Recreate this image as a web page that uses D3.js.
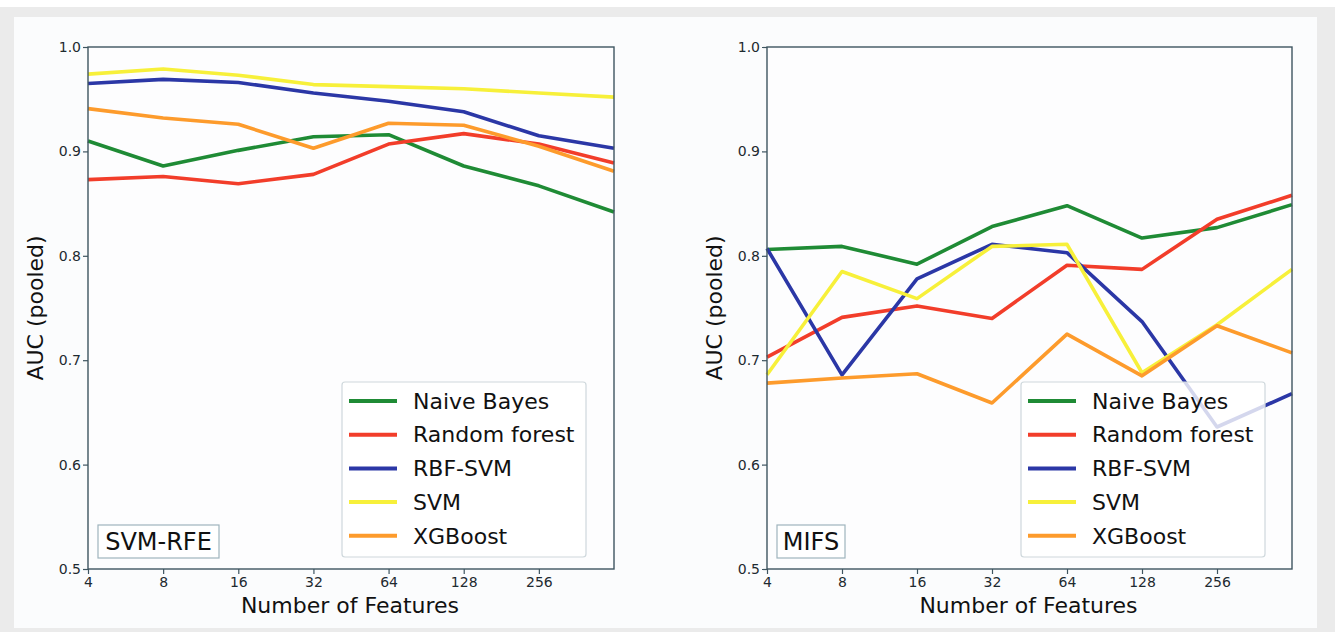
<!DOCTYPE html>
<html>
<head>
<meta charset="utf-8">
<script src="https://cdn.jsdelivr.net/npm/d3@7/dist/d3.min.js"></script>
<style>
  html, body { margin: 0; padding: 0; background: #ffffff; }
  svg { display: block; font-family: "DejaVu Sans", sans-serif; }
</style>
</head>
<body>
<svg id="chart" width="1335" height="632"></svg>
<script>
// ---- data ----
const features = [4, 8, 16, 32, 64, 128, 256, 512];
const xTickValues = [4, 8, 16, 32, 64, 128, 256];
const yTickValues = [0.5, 0.6, 0.7, 0.8, 0.9, 1.0];
const seriesNames = ["Naive Bayes", "Random forest", "RBF-SVM", "SVM", "XGBoost"];
const seriesColors = ["#1f8b35", "#f23d2a", "#2b37a6", "#f7f03a", "#fd9b2c"];

// SVM-RFE panel
const rfeNaiveBayes   = [0.910, 0.886, 0.901, 0.914, 0.916, 0.886, 0.867, 0.842];
const rfeRandomForest = [0.873, 0.876, 0.869, 0.878, 0.907, 0.917, 0.907, 0.889];
const rfeRbfSvm       = [0.965, 0.969, 0.966, 0.956, 0.948, 0.938, 0.915, 0.903];
const rfeSvm          = [0.974, 0.979, 0.973, 0.964, 0.962, 0.960, 0.956, 0.952];
const rfeXgboost      = [0.941, 0.932, 0.926, 0.903, 0.927, 0.925, 0.905, 0.881];

// MIFS panel
const mifsNaiveBayes   = [0.806, 0.809, 0.792, 0.828, 0.848, 0.817, 0.827, 0.849];
const mifsRandomForest = [0.703, 0.741, 0.752, 0.740, 0.791, 0.787, 0.835, 0.858];
const mifsRbfSvm       = [0.807, 0.686, 0.778, 0.811, 0.803, 0.737, 0.636, 0.668];
const mifsSvm          = [0.686, 0.785, 0.759, 0.809, 0.811, 0.688, 0.734, 0.787];
const mifsXgboost      = [0.678, 0.683, 0.687, 0.659, 0.725, 0.685, 0.733, 0.707];

const panels = [
  { tag: "SVM-RFE", series: [rfeNaiveBayes, rfeRandomForest, rfeRbfSvm, rfeSvm, rfeXgboost],
    left: 88, right: 614, tagBoxW: 121 },
  { tag: "MIFS", series: [mifsNaiveBayes, mifsRandomForest, mifsRbfSvm, mifsSvm, mifsXgboost],
    left: 767, right: 1292, tagBoxW: 68 }
];

const svg = d3.select("#chart");

// background frame
svg.append("rect").attr("x", 0).attr("y", 7).attr("width", 1335).attr("height", 625).attr("fill", "#ebebeb");
svg.append("rect").attr("x", 14).attr("y", 17).attr("width", 1303).attr("height", 611).attr("fill", "#fbfcfd");

const plotTop = 47, plotBottom = 569;
const spineColor = "#3e5560";

panels.forEach(p => {
  const g = svg.append("g");
  const x = d3.scaleLog().base(2).domain([4, 512]).range([p.left, p.right]);
  const y = d3.scaleLinear().domain([0.5, 1.0]).range([plotBottom, plotTop]);

  // plot area
  g.append("rect").attr("x", p.left).attr("y", plotTop)
    .attr("width", p.right - p.left).attr("height", plotBottom - plotTop).attr("fill", "#fdfdfe");

  // lines
  const line = d3.line().x((d, i) => x(features[i])).y(d => y(d));
  p.series.forEach((vals, k) => {
    g.append("path").datum(vals)
      .attr("d", line)
      .attr("fill", "none")
      .attr("stroke", seriesColors[k])
      .attr("stroke-width", 3.6)
      .attr("stroke-linejoin", "round");
  });

  // axes
  const xAxis = d3.axisBottom(x).tickValues(xTickValues).tickFormat(d3.format("d")).tickSize(5).tickPadding(3);
  const yAxis = d3.axisLeft(y).tickValues(yTickValues).tickFormat(d3.format(".1f")).tickSize(5).tickPadding(2);

  const gx = g.append("g").attr("transform", `translate(0,${plotBottom})`).call(xAxis);
  const gy = g.append("g").attr("transform", `translate(${p.left},0)`).call(yAxis);
  [gx, gy].forEach(a => {
    a.select(".domain").remove();
    a.selectAll(".tick line").attr("stroke", spineColor).attr("stroke-width", 1.2);
    a.selectAll(".tick text").attr("fill", "#1e2a30").style("font-size", "14px")
      .style("font-family", "'DejaVu Sans', sans-serif");
  });

  // spines
  g.append("rect").attr("x", p.left).attr("y", plotTop)
    .attr("width", p.right - p.left).attr("height", plotBottom - plotTop)
    .attr("fill", "none").attr("stroke", spineColor).attr("stroke-width", 1.4);

  // axis titles
  g.append("text").attr("x", (p.left + p.right) / 2 - 1).attr("y", 613)
    .attr("text-anchor", "middle").style("font-size", "22px").attr("fill", "#111")
    .text("Number of Features");
  const yLabelX = p.left - 45;
  g.append("text").attr("transform", `translate(${yLabelX},308) rotate(-90)`)
    .attr("text-anchor", "middle").style("font-size", "22px").attr("fill", "#111")
    .text("AUC (pooled)");

  // legend
  const lgX = p.left + 254, lgY = 382, lgW = 244, lgH = 175;
  const lg = g.append("g");
  lg.append("rect").attr("x", lgX).attr("y", lgY).attr("width", lgW).attr("height", lgH)
    .attr("rx", 3).attr("fill", "#ffffff").attr("fill-opacity", 0.8)
    .attr("stroke", "#cfd8dc").attr("stroke-width", 1.2);
  seriesNames.forEach((name, k) => {
    const ry = lgY + 19 + k * 33.7;
    lg.append("line").attr("x1", lgX + 7).attr("x2", lgX + 55).attr("y1", ry).attr("y2", ry)
      .attr("stroke", seriesColors[k]).attr("stroke-width", 4);
    lg.append("text").attr("x", lgX + 71).attr("y", ry).attr("dy", "0.35em")
      .style("font-size", "22px").attr("fill", "#111").text(name);
  });

  // tag box
  const tbX = p.left + 10, tbY = 525, tbH = 33;
  g.append("rect").attr("x", tbX).attr("y", tbY).attr("width", p.tagBoxW).attr("height", tbH)
    .attr("fill", "#ffffff").attr("fill-opacity", 0.8)
    .attr("stroke", "#9fb4bd").attr("stroke-width", 1.2);
  g.append("text").attr("x", tbX + p.tagBoxW / 2).attr("y", tbY + tbH / 2).attr("dy", "0.36em")
    .attr("text-anchor", "middle").style("font-size", "24px").attr("fill", "#111").text(p.tag);
});
</script>
</body>
</html>
